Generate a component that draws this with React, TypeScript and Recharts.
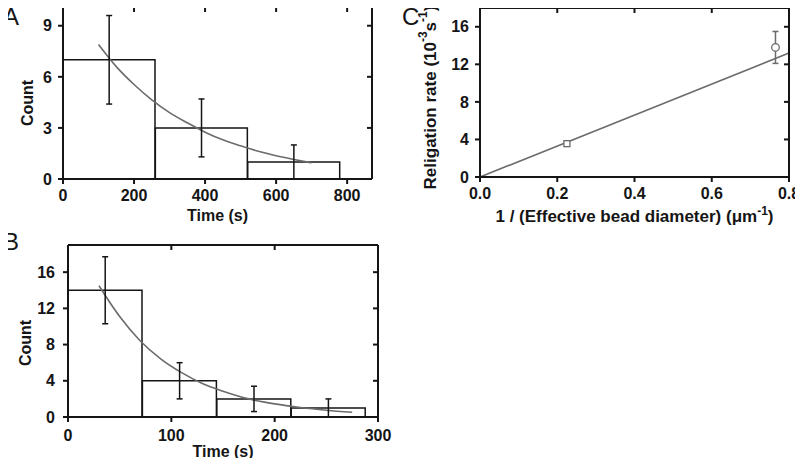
import React from 'react';
import { ComposedChart, Bar, Line, Scatter, XAxis, YAxis, ErrorBar } from 'recharts';

// A: bin edges (s), counts per bin, error bars, fitted decay
const binsA = [0, 260, 520, 780];
const countsA = [7, 3, 1];
const errA = [2.6, 1.7, 1.0];
const fitTimeA = [100, 150, 200, 250, 300, 350, 400, 450, 500, 550, 600, 650, 700];
const fitCountA = [7.9, 6.6, 5.55, 4.65, 3.9, 3.3, 2.75, 2.3, 1.95, 1.63, 1.37, 1.15, 0.95];
const xTicksA = [0, 200, 400, 600, 800];
const yTicksA = [0, 3, 6, 9];

// B
const binsB = [0, 72, 144, 216, 288];
const countsB = [14, 4, 2, 1];
const errB = [3.7, 2.0, 1.4, 1.0];
const fitTimeB = [30, 50, 70, 90, 110, 130, 150, 175, 200, 225, 250, 275];
const fitCountB = [14.5, 11.1, 8.4, 6.4, 4.9, 3.7, 2.85, 2.0, 1.45, 1.05, 0.75, 0.52];
const xTicksB = [0, 100, 200, 300];
const yTicksB = [0, 4, 8, 12, 16];

// C: religation rate vs inverse bead diameter
const invDiameter = [0.225, 0.765];
const rate = [3.55, 13.8];
const rateErr = [0.25, 1.7];
const fitInvDiameter = [0, 0.8];
const fitRate = [0, 13.2];
const xTicksC = [0, 0.2, 0.4, 0.6, 0.8];
const yTicksC = [0, 4, 8, 12, 16];

const FONT = '"Liberation Sans", Arial, Helvetica, sans-serif';
const INK = '#151515';
const GREY = '#6b6b6b';

const tickStyle = { fill: INK, fontSize: 16, fontWeight: 700, fontFamily: FONT };
const axisLine = { stroke: INK, strokeWidth: 2 };
const tickLine = { stroke: INK, strokeWidth: 2 };

// rotated axis title, centred on the axis box
function YTitle(props: any) {
  const { viewBox, txt, offX = 0, offY = 0, size = 16 } = props;
  const cx = viewBox.x + offX;
  const cy = viewBox.y + viewBox.height / 2 + offY;
  return (
    <text x={cx} y={cy} transform={`rotate(-90 ${cx} ${cy})`} textAnchor="middle" dominantBaseline="central"
      fill={INK} fontSize={size} fontWeight={700} fontFamily={FONT}>
      {txt}
    </text>
  );
}

function XTitle(props: any) {
  const { viewBox, txt, offX = 0, offY = 0, size = 16 } = props;
  const cx = viewBox.x + viewBox.width / 2 + offX;
  const cy = viewBox.y + offY;
  return (
    <text x={cx} y={cy} textAnchor="middle" fill={INK} fontSize={size} fontWeight={700} fontFamily={FONT}>
      {txt}
    </text>
  );
}

// mirrored ticks on the top / right frame, pointing into the plot
const DownStub = (p: any) => <line x1={p.cx} y1={p.cy} x2={p.cx} y2={p.cy + 5} stroke={INK} strokeWidth={2} />;
const LeftStub = (p: any) => <line x1={p.cx - 5} y1={p.cy} x2={p.cx} y2={p.cy} stroke={INK} strokeWidth={2} />;

const NoMark = () => <g />;

type HistProps = {
  bins: number[]; counts: number[]; errs: number[]; fitX: number[]; fitY: number[];
  xTicks: number[]; yTicks: number[]; xMax: number; yMax: number;
  width: number; height: number; top: number; right: number;
  yAxisWidth: number; xAxisHeight: number; xGap: number; yGap: number;
  titleY: number; countX: number; countY: number;
};

function HistPanel(p: HistProps) {
  const hist = p.counts.map((c, i) => ({ x: (p.bins[i] + p.bins[i + 1]) / 2, y: c, err: p.errs[i] }));
  const fit = p.fitX.map((x, i) => ({ x, y: p.fitY[i] }));
  const topTicks = p.xTicks.slice(1).map((x) => ({ x, y: p.yMax }));
  const rightTicks = p.yTicks.slice(1).map((y) => ({ x: p.xMax, y }));
  const xDom: [number, number] = [0, p.xMax];
  const yDom: [number, number] = [0, p.yMax];
  return (
    <ComposedChart width={p.width} height={p.height} data={hist} barCategoryGap={0} barGap={0}
      margin={{ top: p.top, right: p.right, bottom: 0, left: 0 }}>
      <XAxis dataKey="x" type="number" domain={xDom} ticks={p.xTicks} interval={0}
        height={p.xAxisHeight} tickSize={5} tickMargin={p.xGap} tick={tickStyle} axisLine={axisLine} tickLine={tickLine}
        label={<XTitle txt="Time (s)" offY={p.titleY} />} />
      <XAxis xAxisId="top" orientation="top" dataKey="x" type="number" domain={[0, p.xMax]} ticks={p.xTicks}
        height={2} tick={false} stroke={INK} strokeWidth={2} />
      <XAxis xAxisId="bins" dataKey="x" type="number" domain={xDom} ticks={hist.map((d) => d.x)} hide />
      <YAxis type="number" domain={yDom} ticks={p.yTicks} interval={0} width={p.yAxisWidth}
        tickSize={5} tickMargin={p.yGap} tick={tickStyle} axisLine={axisLine} tickLine={tickLine}
        label={<YTitle txt="Count" offX={p.countX} offY={p.countY} />} />
      <YAxis yAxisId="right" orientation="right" type="number" domain={[0, p.yMax]} ticks={p.yTicks}
        width={2} tick={false} stroke={INK} strokeWidth={2} />
      <Scatter xAxisId="top" yAxisId="right" data={topTicks} dataKey="y" shape={DownStub} isAnimationActive={false} />
      <Scatter xAxisId="top" yAxisId="right" data={rightTicks} dataKey="y" shape={LeftStub} isAnimationActive={false} />
      <Bar xAxisId="bins" dataKey="y" fill="none" stroke={INK} strokeWidth={1.5} isAnimationActive={false} />
      <Line data={fit} dataKey="y" type="monotone" dot={false} stroke={GREY} strokeWidth={1.6} isAnimationActive={false} />
      <Scatter data={hist} dataKey="y" shape={NoMark} isAnimationActive={false}>
        <ErrorBar dataKey="err" direction="y" width={3} stroke={INK} strokeWidth={1.5} />
      </Scatter>
    </ComposedChart>
  );
}

const SquareMark = (p: any) => (
  <rect x={p.cx - 3} y={p.cy - 3} width={6} height={6} fill="#fff" stroke={GREY} strokeWidth={1.3} />
);
const CircleMark = (p: any) => <circle cx={p.cx} cy={p.cy} r={3.8} fill="#fff" stroke={GREY} strokeWidth={1.3} />;

function RatePanel() {
  const pts = invDiameter.map((x, i) => ({ x, y: rate[i], err: rateErr[i] }));
  const fit = fitInvDiameter.map((x, i) => ({ x, y: fitRate[i] }));
  const topTicks = xTicksC.slice(1).map((x) => ({ x, y: 18 }));
  const rightTicks = yTicksC.slice(1).map((y) => ({ x: 0.8, y }));
  const xDom: [number, number] = [0, 0.8];
  const yDom: [number, number] = [0, 18];
  const sup = { fontSize: 12 };
  return (
    <ComposedChart width={403} height={240} margin={{ top: 6, right: 12, bottom: 0, left: 0 }}>
      <XAxis dataKey="x" type="number" domain={xDom} ticks={xTicksC} interval={0} height={63}
        tickSize={5} tickMargin={6} tick={tickStyle} axisLine={axisLine} tickLine={tickLine}
        tickFormatter={(v: number) => v.toFixed(1)}
        label={
          <XTitle offY={45} size={17} txt={<>1 / (Effective bead diameter) (μm<tspan dy={-7} style={sup}>-1</tspan><tspan dy={7}>)</tspan></>} />
        } />
      <XAxis xAxisId="top" orientation="top" dataKey="x" type="number" domain={[0, 0.8]} ticks={xTicksC}
        height={2} tick={false} stroke={INK} strokeWidth={2} />
      <YAxis type="number" domain={yDom} ticks={yTicksC} interval={0} width={80}
        tickSize={5} tickMargin={6} tick={tickStyle} axisLine={axisLine} tickLine={tickLine}
        label={
          <YTitle offX={30} offY={5} size={17} txt={<>Religation rate (10<tspan dy={-7} style={sup}>-3</tspan><tspan dy={7}>s</tspan><tspan dy={-7} style={sup}>-1</tspan><tspan dy={7}>)</tspan></>} />
        } />
      <YAxis yAxisId="right" orientation="right" type="number" domain={[0, 18]} ticks={yTicksC}
        width={2} tick={false} stroke={INK} strokeWidth={2} />
      <Scatter xAxisId="top" yAxisId="right" data={topTicks} dataKey="y" shape={DownStub} isAnimationActive={false} />
      <Scatter xAxisId="top" yAxisId="right" data={rightTicks} dataKey="y" shape={LeftStub} isAnimationActive={false} />
      <Line data={fit} dataKey="y" type="linear" dot={false} stroke={GREY} strokeWidth={1.6} isAnimationActive={false} />
      <Scatter data={[pts[0]]} dataKey="y" shape={SquareMark} isAnimationActive={false}>
        <ErrorBar dataKey="err" direction="y" width={3} stroke={GREY} strokeWidth={1.5} />
      </Scatter>
      <Scatter data={[pts[1]]} dataKey="y" shape={CircleMark} isAnimationActive={false}>
        <ErrorBar dataKey="err" direction="y" width={3} stroke={GREY} strokeWidth={1.5} />
      </Scatter>
    </ComposedChart>
  );
}

const letter = (left: number, top: number): React.CSSProperties => ({
  position: 'absolute', left, top, fontFamily: FONT, fontSize: 24, lineHeight: '24px', color: INK,
});

export default function App() {
  return (
    <div style={{ position: 'relative', width: 803, height: 466, margin: -8 }}>
      <div style={{ position: 'absolute', left: 0, top: 0 }}>
        <HistPanel bins={binsA} counts={countsA} errs={errA} fitX={fitTimeA} fitY={fitCountA}
          xTicks={xTicksA} yTicks={yTicksA} xMax={870} yMax={10.1}
          width={400} height={232} top={5} right={26} yAxisWidth={63} xAxisHeight={53} xGap={6} yGap={6}
          titleY={42} countX={27} countY={10} />
      </div>
      <div style={{ position: 'absolute', left: 0, top: 236 }}>
        <HistPanel bins={binsB} counts={countsB} errs={errB} fitX={fitTimeB} fitY={fitCountB}
          xTicks={xTicksB} yTicks={yTicksB} xMax={300} yMax={19}
          width={400} height={230} top={7} right={20} yAxisWidth={68} xAxisHeight={49} xGap={8} yGap={8}
          titleY={40} countX={25} countY={12} />
      </div>
      <div style={{ position: 'absolute', left: 400, top: 0 }}>
        <RatePanel />
      </div>
      <div style={letter(3, 5)}>A</div>
      <div style={letter(3, 230)}>B</div>
      <div style={letter(402, 5)}>C</div>
    </div>
  );
}
